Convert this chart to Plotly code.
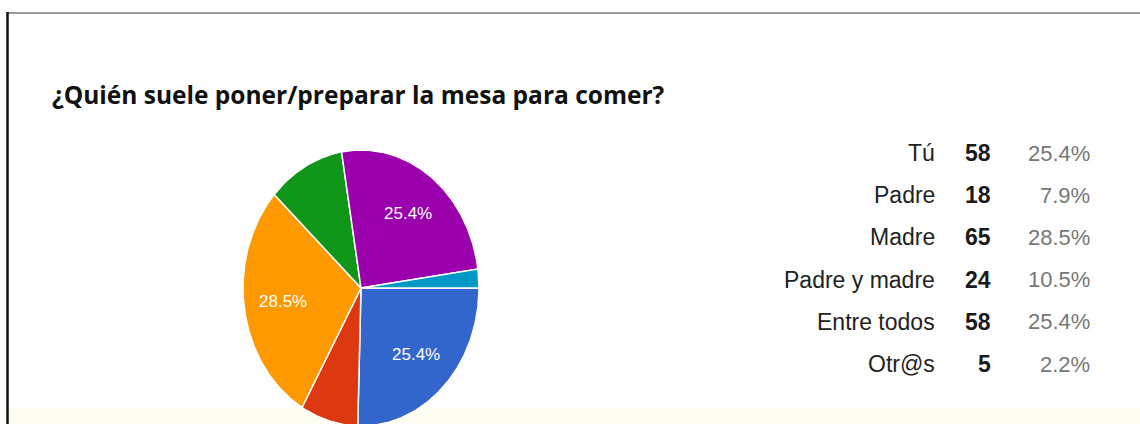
import numpy as np
import plotly.graph_objects as go

# Survey answers: who usually sets the table
categories = ["Tú", "Padre", "Madre", "Padre y madre", "Entre todos", "Otr@s"]
counts = [58, 18, 65, 24, 58, 5]
colors = ["#3366cc", "#dc3912", "#ff9900", "#109618", "#9a00ac", "#0099c6"]
title_text = "¿Quién suele poner/preparar la mesa para comer?"

W, H = 1140, 424
total = sum(counts)
shares = [c / total for c in counts]

# Pie geometry (pixel space; slightly taller than wide, cut at the bottom)
cx, cy, rx, ry = 361, 288, 118, 138
start_deg = 90.0  # first slice starts at 3 o'clock, clockwise

fig = go.Figure()

# background strip along the bottom edge
fig.add_shape(type="rect", x0=9, x1=W, y0=408, y1=H, line_width=0,
              fillcolor="#fefdf1", layer="below")

angle = start_deg
label_pos = []
for cat, share, col in zip(categories, shares, colors):
    a0, a1 = angle, angle + share * 360.0
    t = np.radians(np.linspace(a0, a1, max(8, int((a1 - a0) * 2))))
    xs = np.concatenate([[cx], cx + rx * np.sin(t), [cx]])
    ys = np.concatenate([[cy], cy - ry * np.cos(t), [cy]])
    fig.add_trace(go.Scatter(
        x=xs, y=ys, mode="lines", fill="toself", fillcolor=col,
        line=dict(color="white", width=1.5), hoverinfo="text",
        text=f"{cat}: {share*100:.1f}%", showlegend=False))
    mid = np.radians((a0 + a1) / 2)
    label_pos.append((cx + 0.67 * rx * np.sin(mid), cy - 0.67 * ry * np.cos(mid), share))
    angle = a1

# percentage labels on the larger slices
for (lx, ly, share) in label_pos:
    if share >= 0.15:
        fig.add_annotation(x=lx, y=ly, text=f"{share*100:.1f}%", showarrow=False,
                           font=dict(family="Liberation Sans, Arial", size=17, color="white"),
                           xanchor="center", yanchor="middle")

# summary table on the right
row0, row_step = 153, 42.2
for i, (cat, cnt, share) in enumerate(zip(categories, counts, shares)):
    y = row0 + i * row_step
    fig.add_annotation(x=937, y=y, text=cat, showarrow=False, xanchor="right", yanchor="middle",
                       font=dict(family="Liberation Sans, Arial", size=23, color="#222222"))
    fig.add_annotation(x=993, y=y, text=f"<b>{cnt}</b>", showarrow=False, xanchor="right",
                       yanchor="middle",
                       font=dict(family="Liberation Sans Narrow, Liberation Sans, Arial", size=23,
                                 color="#1a1a1a"))
    fig.add_annotation(x=1092, y=y, text=f"{share*100:.1f}%", showarrow=False, xanchor="right",
                       yanchor="middle",
                       font=dict(family="Liberation Sans, Arial", size=22, color="#777777"))

# title
fig.add_annotation(x=50, y=94, text=f"<b>{title_text}</b>", showarrow=False,
                   xanchor="left", yanchor="middle",
                   font=dict(family="Open Sans, DejaVu Sans", size=24.5, color="#111111"))

# frame lines: top and left
fig.add_shape(type="line", x0=7, x1=W, y0=13, y1=13, line=dict(color="#7a7a7a", width=1.5))
fig.add_shape(type="line", x0=7.5, x1=7.5, y0=12, y1=H, line=dict(color="#111111", width=2.5))

fig.update_layout(
    width=W, height=H, margin=dict(l=0, r=0, t=0, b=0),
    paper_bgcolor="white", plot_bgcolor="white",
    xaxis=dict(range=[0, W], visible=False, fixedrange=True),
    yaxis=dict(range=[H, 0], visible=False, fixedrange=True),
    showlegend=False,
)

fig.write_html("out.html", config={"displayModeBar": False})
